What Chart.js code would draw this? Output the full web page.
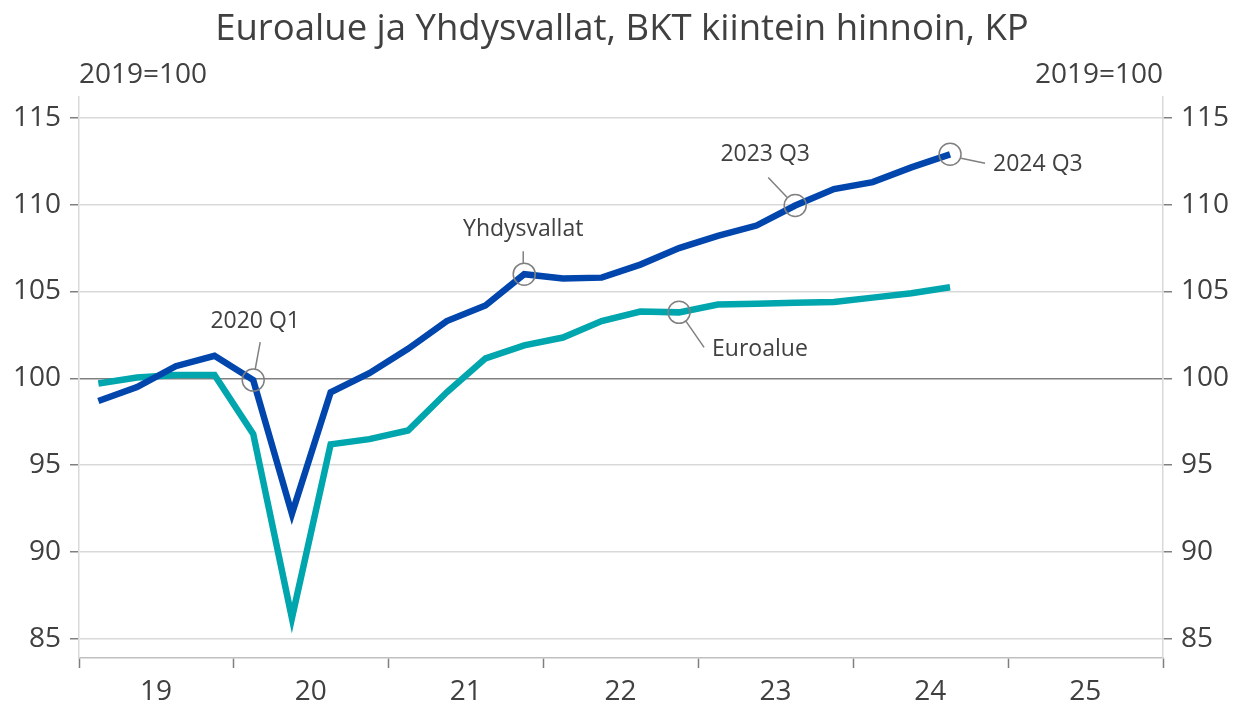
<!DOCTYPE html>
<html>
<head>
<meta charset="utf-8">
<script src="https://cdn.jsdelivr.net/npm/chart.js@4.4.1/dist/chart.umd.min.js"></script>
<style>
  html, body { margin: 0; padding: 0; background: #ffffff; }
  #wrap { width: 1236px; height: 704px; }
</style>
</head>
<body>
<div id="wrap"><canvas id="c" width="1236" height="704"></canvas></div>
<script>
// ---- DATA ----
const quarters = [
  '2019 Q1','2019 Q2','2019 Q3','2019 Q4',
  '2020 Q1','2020 Q2','2020 Q3','2020 Q4',
  '2021 Q1','2021 Q2','2021 Q3','2021 Q4',
  '2022 Q1','2022 Q2','2022 Q3','2022 Q4',
  '2023 Q1','2023 Q2','2023 Q3','2023 Q4',
  '2024 Q1','2024 Q2','2024 Q3'
];
const usValues = [
  98.7, 99.5, 100.7, 101.3,
  99.9, 92.2, 99.2, 100.3,
  101.7, 103.3, 104.2, 106.0,
  105.75, 105.8, 106.55, 107.5,
  108.2, 108.8, 109.95, 110.9,
  111.3, 112.15, 112.9
];
const euroValues = [
  99.7, 100.05, 100.2, 100.2,
  96.8, 86.2, 96.2, 96.5,
  97.0, 99.2, 101.15, 101.9,
  102.35, 103.3, 103.85, 103.8,
  104.25, 104.3, 104.35, 104.4,
  104.65, 104.9, 105.25
];
const yearTicks = [2019, 2020, 2021, 2022, 2023, 2024, 2025, 2026];
const yTicks = [85, 90, 95, 100, 105, 110, 115];
const seriesNames = ['Yhdysvallat', 'Euroalue'];
const titleText = 'Euroalue ja Yhdysvallat, BKT kiintein hinnoin, KP';
const unitText = '2019=100';
// annotated points: [series index, quarter label, text]
const annoPoints = [
  [0, '2020 Q1', '2020 Q1'],
  [0, '2021 Q4', 'Yhdysvallat'],
  [1, '2022 Q4', 'Euroalue'],
  [0, '2023 Q3', '2023 Q3'],
  [0, '2024 Q3', '2024 Q3']
];

// ---- STYLES (pixel offsets for annotation callouts) ----
const annoStyle = [
  { l1:[2,-11], l2:[7,-38], t:[2,-59], align:'center' },
  { l1:[-1,-11], l2:[-1,-23], t:[-1,-45], align:'center' },
  { l1:[7,9], l2:[25,35], t:[33,37], align:'left' },
  { l1:[-8,-8], l2:[-27,-28], t:[-30,-51], align:'center' },
  { l1:[11,4], l2:[35,9], t:[43,10], align:'left' }
];

const qToX = q => { const [y, qq] = q.split(' Q'); return +y + (+qq - 0.5) / 4; };
const toPts = vals => vals.map((v, i) => ({ x: qToX(quarters[i]), y: v }));

const FONT = "'Open Sans', 'Noto Sans', sans-serif";
const TXT = '#404040';

const decorPlugin = {
  id: 'decor',
  afterDraw(chart) {
    const ctx = chart.ctx;
    const ca = chart.chartArea;
    ctx.save();
    ctx.fillStyle = TXT;
    ctx.textBaseline = 'middle';
    ctx.font = '36.5px ' + FONT;
    ctx.textAlign = 'center';
    ctx.fillText(titleText, 622, 30);
    ctx.font = '28px ' + FONT;
    ctx.textAlign = 'left';
    ctx.fillText(unitText, ca.left, 75);
    ctx.textAlign = 'right';
    ctx.fillText(unitText, ca.right, 75);

    // callouts
    annoPoints.forEach((a, k) => {
      const meta = chart.getDatasetMeta(a[0]);
      const idx = quarters.indexOf(a[1]);
      const p = meta.data[idx];
      const s = annoStyle[k];
      ctx.strokeStyle = '#808080';
      ctx.lineWidth = 1.5;
      ctx.beginPath();
      ctx.arc(p.x, p.y, 11, 0, Math.PI * 2);
      ctx.stroke();
      ctx.beginPath();
      ctx.moveTo(p.x + s.l1[0], p.y + s.l1[1]);
      ctx.lineTo(p.x + s.l2[0], p.y + s.l2[1]);
      ctx.stroke();
      ctx.font = '23px ' + FONT;
      ctx.fillStyle = TXT;
      ctx.textAlign = s.align;
      ctx.textBaseline = 'middle';
      ctx.fillText(a[2], p.x + s.t[0], p.y + s.t[1]);
    });
    ctx.restore();
  }
};

const yCommon = {
  type: 'linear',
  min: 83.9,
  max: 116.2,
  afterBuildTicks: ax => { ax.ticks = yTicks.map(v => ({ value: v })); },
  ticks: { font: { family: FONT, size: 28 }, color: TXT, padding: 9 },
};

new Chart(document.getElementById('c'), {
  type: 'line',
  data: {
    datasets: [
      { label: seriesNames[0], data: toPts(usValues), borderColor: '#0046ad', borderWidth: 6.5,
        pointRadius: 0, tension: 0, borderJoinStyle: 'miter', borderCapStyle: 'butt', yAxisID: 'y' },
      { label: seriesNames[1], data: toPts(euroValues), borderColor: '#00a6ad', borderWidth: 6.5,
        pointRadius: 0, tension: 0, borderJoinStyle: 'miter', borderCapStyle: 'butt', yAxisID: 'y' }
    ]
  },
  options: {
    responsive: false,
    animation: false,
    layout: { padding: { top: 97, left: 0, right: 0, bottom: 0 } },
    plugins: { legend: { display: false }, tooltip: { enabled: false }, title: { display: false } },
    scales: {
      x: {
        type: 'linear', min: 2019, max: 2026, position: 'bottom',
        afterBuildTicks: ax => { ax.ticks = yearTicks.map(v => ({ value: v })); },
        afterFit: ax => { ax.height = 46; },
        ticks: {
          autoSkip: false, maxRotation: 0, labelOffset: 77, padding: 7,
          font: { family: FONT, size: 28 }, color: TXT,
          callback: v => (v === 2026 ? '' : String(v).slice(2))
        },
        grid: { drawOnChartArea: false, drawTicks: true, tickLength: 10, tickColor: '#7f7f7f', tickWidth: 1.5 },
        border: { color: '#bfbfbf', width: 1.5 }
      },
      y: Object.assign({}, yCommon, {
        position: 'left',
        afterFit: ax => { ax.width = 79; },
        grid: {
          color: c => (c.tick && c.tick.value === 100 ? '#808080' : '#d9d9d9'),
          lineWidth: 1.5, tickLength: 9, tickColor: '#808080', drawTicks: true
        },
        border: { color: '#d9d9d9', width: 1.5 }
      }),
      y2: Object.assign({}, yCommon, {
        position: 'right',
        afterFit: ax => { ax.width = 73; },
        grid: { drawOnChartArea: false, tickLength: 9, tickColor: '#808080', lineWidth: 1.5 },
        border: { color: '#d9d9d9', width: 1.5 }
      })
    }
  },
  plugins: [decorPlugin]
});
</script>
</body>
</html>
